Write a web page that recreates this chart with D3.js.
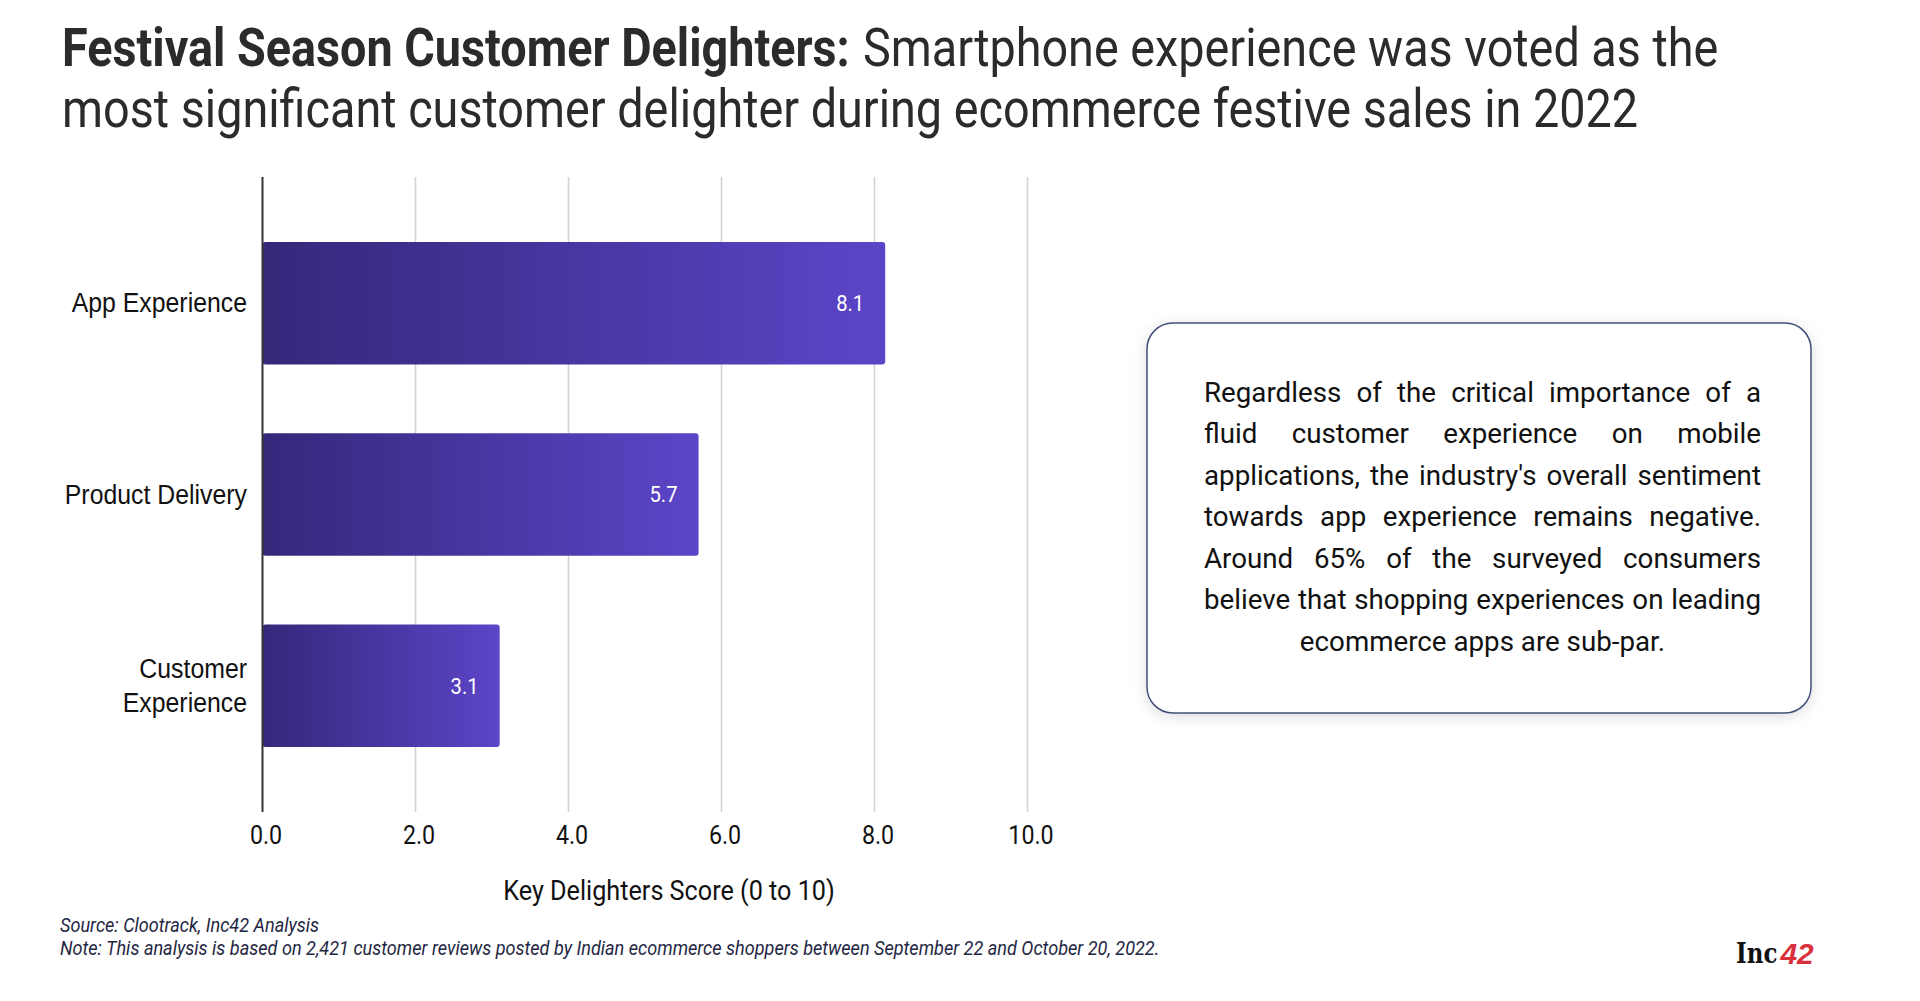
<!DOCTYPE html>
<html>
<head>
<meta charset="utf-8">
<script src="https://cdn.jsdelivr.net/npm/d3@7"></script>
<style>
html,body{margin:0;padding:0;background:#fff;}
svg{display:block;font-family:Roboto,"Noto Sans",sans-serif;}
</style>
</head>
<body>
<svg id="chart" width="1920" height="1001"></svg>
<script>
// ---------------- data ----------------
const categories = ["App Experience", "Product Delivery", "Customer Experience"];
const scores = [8.14, 5.7, 3.1];
const xTicks = [0, 2, 4, 6, 8, 10];
const xAxisTitle = "Key Delighters Score (0 to 10)";
const titleBold = "Festival Season Customer Delighters:";
const titleLines = ["Smartphone experience was voted as the",
  "most significant customer delighter during ecommerce festive sales in 2022"];
const noteLines = [
  "Regardless of the critical importance of a",
  "fluid customer experience on mobile",
  "applications, the industry's overall sentiment",
  "towards app experience remains negative.",
  "Around 65% of the surveyed consumers",
  "believe that shopping experiences on leading",
  "ecommerce apps are sub-par."
];
const sourceText = "Source: Clootrack, Inc42 Analysis";
const footNote = "Note: This analysis is based on 2,421 customer reviews posted by Indian ecommerce shoppers between September 22 and October 20, 2022.";

// ---------------- helpers ----------------
// horizontal condensing around the text anchor (emulates a condensed face)
function condense(sel, k, ax) {
  let last = 0;
  sel.each(function () {
    const a = ax !== undefined ? ax : (+this.getAttribute("x") || 0);
    last = this.getComputedTextLength() * k;
    const prev = this.getAttribute("transform") || "";
    this.setAttribute("transform",
      `${prev} translate(${a},0) scale(${k},1) translate(${-a},0)`.trim());
  });
  return last;
}

const svg = d3.select("#chart");
svg.append("rect").attr("width", 1920).attr("height", 1001).attr("fill", "#fff");

const defs = svg.append("defs");
const grad = defs.append("linearGradient").attr("id", "barGrad")
  .attr("x1", "0%").attr("x2", "100%").attr("y1", "0%").attr("y2", "0%");
grad.append("stop").attr("offset", "0%").attr("stop-color", "#34287a");
grad.append("stop").attr("offset", "100%").attr("stop-color", "#5c45c8");

const shadow = defs.append("filter").attr("id", "boxShadow")
  .attr("x", "-10%").attr("y", "-10%").attr("width", "120%").attr("height", "125%");
shadow.append("feDropShadow").attr("dx", 0).attr("dy", 3).attr("stdDeviation", 7)
  .attr("flood-color", "#000").attr("flood-opacity", 0.13);

// ---------------- title ----------------
const tColor = "#2b2b2b", kTitle = 0.866, tSize = 54;
const tb = svg.append("text").attr("x", 62).attr("y", 66)
  .attr("font-size", tSize).attr("font-weight", 700).attr("fill", tColor)
  .text(titleBold);
const bw = condense(tb, kTitle);
const trX = 62 + bw + 13;
const tr = svg.append("text").attr("x", trX).attr("y", 66)
  .attr("font-size", tSize).attr("font-weight", 400).attr("fill", tColor)
  .text(titleLines[0]);
condense(tr, kTitle);
const t2 = svg.append("text").attr("x", 62).attr("y", 127)
  .attr("font-size", tSize).attr("fill", tColor).text(titleLines[1]);
condense(t2, kTitle);

// ---------------- chart ----------------
const x = d3.scaleLinear().domain([0, 10]).range([262.5, 1027.5]);
const y = d3.scaleBand().domain(categories).range([177, 812])
  .paddingInner(0.36).paddingOuter(0.34);

const g = svg.append("g");

// gridlines
g.append("g").selectAll("line").data(xTicks.filter(d => d > 0)).join("line")
  .attr("x1", d => x(d)).attr("x2", d => x(d))
  .attr("y1", y.range()[0]).attr("y2", y.range()[1])
  .attr("stroke", "#d3d3d3").attr("stroke-width", 1.6);

// bars
g.append("g").selectAll("rect").data(categories).join("rect")
  .attr("x", x(0))
  .attr("y", d => y(d))
  .attr("width", (d, i) => x(scores[i]) - x(0))
  .attr("height", y.bandwidth())
  .attr("rx", 3)
  .attr("fill", "url(#barGrad)");

// value labels
const fmt = d3.format(".1f");
const vals = g.append("g").selectAll("text").data(categories).join("text")
  .attr("x", (d, i) => x(scores[i]) - 21)
  .attr("y", d => y(d) + y.bandwidth() / 2)
  .attr("dy", "0.36em")
  .attr("text-anchor", "end")
  .attr("font-size", 22)
  .attr("fill", "#fff")
  .text((d, i) => fmt(scores[i]));
condense(vals, 0.92);

// x axis
const xAxis = d3.axisBottom(x).tickValues(xTicks).tickSize(0).tickPadding(14)
  .tickFormat(d3.format(".1f"));
const xg = g.append("g").attr("transform", `translate(0,${y.range()[1]})`).call(xAxis);
xg.select(".domain").remove();
xg.selectAll("text").attr("font-size", 25).attr("fill", "#111")
  .attr("font-family", "Roboto, sans-serif").attr("dx", 3);
condense(xg.selectAll("text"), 0.93, 3);

// y axis (category labels)
const yAxis = d3.axisLeft(y).tickSize(0).tickPadding(15).tickFormat("");
const yg = g.append("g").attr("transform", `translate(${x(0)},0)`).call(yAxis);
yg.select(".domain").remove();
yg.selectAll(".tick").each(function (d) {
  const words = d.length > 17 ? d.split(" ") : [d];
  const lh = 34;
  words.forEach((w, i) => {
    const t = d3.select(this).append("text")
      .attr("text-anchor", "end").attr("font-size", 27).attr("fill", "#111")
      .attr("x", -15.5)
      .attr("y", 9 + (i - (words.length - 1) / 2) * lh).text(w);
    condense(t, 0.92);
  });
});

// baseline axis line
g.append("line")
  .attr("x1", x(0)).attr("x2", x(0))
  .attr("y1", y.range()[0]).attr("y2", y.range()[1])
  .attr("stroke", "#333").attr("stroke-width", 2);

// axis title
const at = svg.append("text").attr("x", 669).attr("y", 900)
  .attr("text-anchor", "middle").attr("font-size", 28).attr("fill", "#111")
  .text(xAxisTitle);
condense(at, 0.9);

// ---------------- note box ----------------
const box = { x: 1147, y: 323, w: 664, h: 390 };
svg.append("rect")
  .attr("x", box.x).attr("y", box.y).attr("width", box.w).attr("height", box.h)
  .attr("rx", 26).attr("fill", "#fff")
  .attr("stroke", "#42507a").attr("stroke-width", 1.5)
  .attr("filter", "url(#boxShadow)");

const textLeft = 1204, textW = 557, kBox = 0.99, fs = 28;
const noteG = svg.append("g")
  .attr("transform", `translate(${textLeft},0) scale(${kBox},1)`);
noteLines.forEach((line, i) => {
  const yy = 402 + i * 41.5;
  const isLast = i === noteLines.length - 1;
  const t = noteG.append("text").attr("y", yy).attr("font-size", fs)
    .attr("fill", "#111").text(line);
  if (isLast) {
    t.attr("x", textW / kBox / 2).attr("text-anchor", "middle");
  } else {
    t.attr("x", 0);
    const natural = t.node().getComputedTextLength();
    const spaces = (line.match(/ /g) || []).length;
    const extra = (textW / kBox - natural) / spaces;
    t.attr("word-spacing", extra);
  }
});

// ---------------- footer ----------------
const src = svg.append("text").attr("x", 60).attr("y", 932)
  .attr("font-size", 20).attr("font-style", "italic").attr("fill", "#1f2743")
  .text(sourceText);
const nt = svg.append("text").attr("x", 60).attr("y", 955)
  .attr("font-size", 20).attr("font-style", "italic").attr("fill", "#1f2743")
  .text(footNote);
condense(src, 0.905);
condense(nt, 0.905);

// logo
const logoInc = svg.append("text").attr("x", 1736).attr("y", 963)
  .attr("font-size", 27).attr("font-weight", 700).attr("fill", "#111")
  .attr("font-family", "'DejaVu Serif', 'Liberation Serif', serif")
  .text("Inc");
const incW = condense(logoInc, 0.85);
svg.append("text").attr("x", 1736 + incW + 3).attr("y", 964)
  .attr("font-size", 30).attr("font-weight", 700).attr("fill", "#d8313b")
  .attr("font-style", "italic")
  .attr("font-family", "'Liberation Sans', sans-serif").text("42");
</script>
</body>
</html>
